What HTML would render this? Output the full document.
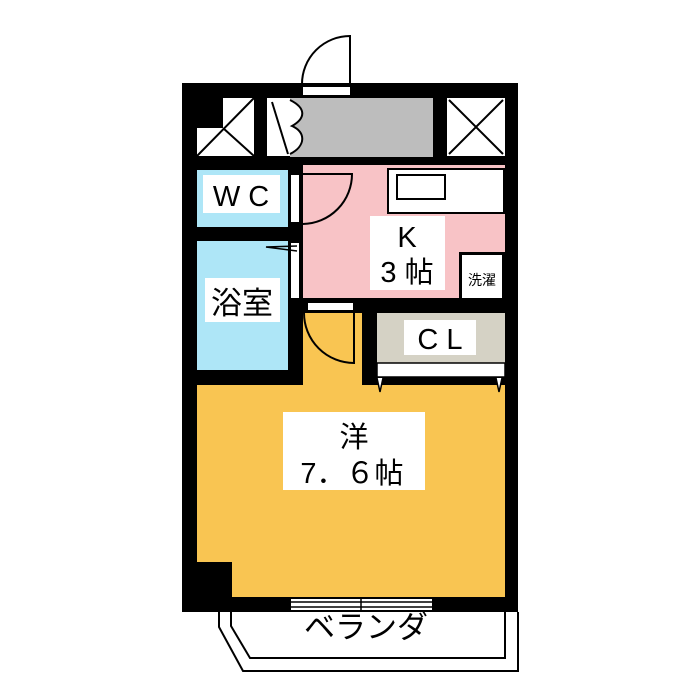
<!DOCTYPE html>
<html><head><meta charset="utf-8"><style>body{margin:0;background:#fff}svg{display:block}text{font-family:"Liberation Sans","Noto Sans CJK JP",sans-serif}</style></head><body>
<svg width="700" height="700" viewBox="0 0 700 700" xmlns="http://www.w3.org/2000/svg">
<rect width="700" height="700" fill="#fff"/>
<!-- balcony -->
<path d="M219 612 V627 L243 671 H518 V612" fill="none" stroke="#000" stroke-width="2"/>
<path d="M231 612 V626 L250 658 H505 V612" fill="none" stroke="#000" stroke-width="2"/>
<!-- outer walls -->
<rect x="182" y="83" width="336" height="529" fill="#000"/>
<!-- top row -->
<rect x="197" y="98" width="57" height="58" fill="#fff"/>
<rect x="197" y="98" width="26" height="30" fill="#000"/>
<path d="M197 156 L254 98 M223 128 L254 156" stroke="#000" stroke-width="2"/>
<rect x="267" y="98" width="23" height="58" fill="#fff"/>
<path d="M272 102 L288 154" stroke="#000" stroke-width="2"/>
<rect x="290" y="98" width="143" height="59" fill="#bdbdbd"/>
<path d="M290 100 C306 108 306 118 292 126 C306 132 306 146 290 154" fill="#fff" stroke="#000" stroke-width="2"/>
<rect x="447" y="98" width="58" height="58" fill="#fff"/>
<path d="M449 100 L503 154 M503 100 L449 154" stroke="#000" stroke-width="2"/>
<!-- entry door -->
<rect x="303" y="87" width="47" height="8" fill="#fff"/>
<path d="M350 85 V36 A48 48 0 0 0 302 84" fill="none" stroke="#000" stroke-width="2"/>
<!-- WC / bath -->
<rect x="197" y="170" width="91" height="57" fill="#aee6f7"/>
<rect x="197" y="241" width="91" height="129" fill="#aee6f7"/>
<rect x="291" y="175" width="8" height="47" fill="#fff"/>
<rect x="291" y="243" width="8" height="55" fill="#fff"/>
<path d="M297 246 L266 247 L297 251" fill="none" stroke="#000" stroke-width="1.5"/>
<!-- kitchen -->
<rect x="303" y="165" width="202" height="133" fill="#f8c3c6"/>
<path d="M303 224 A50 50 0 0 0 352 174 H303" fill="none" stroke="#000" stroke-width="2"/>
<rect x="387" y="168" width="118" height="46" fill="#000"/>
<rect x="389" y="170" width="114" height="42" fill="#fff"/>
<rect x="397" y="175" width="48" height="24" fill="#fff" stroke="#000" stroke-width="2"/>
<rect x="370" y="216" width="75" height="74" fill="#fff"/>
<rect x="459" y="252" width="46" height="48" fill="#000"/>
<rect x="462" y="255" width="40" height="43" fill="#fff"/>
<text x="407" y="247" font-size="29" text-anchor="middle">K</text>
<text x="407" y="282" font-size="29" text-anchor="middle">3 帖</text>
<text x="482" y="285" font-size="14" text-anchor="middle">洗濯</text>
<!-- yellow room -->
<rect x="303" y="313" width="59" height="80" fill="#f9c552"/>
<rect x="197" y="385" width="308" height="212" fill="#f9c552"/>
<rect x="182" y="562" width="50" height="50" fill="#000"/>
<rect x="308" y="303" width="45" height="7" fill="#fff"/>
<path d="M304 313 A50 50 0 0 0 354 363 V313" fill="none" stroke="#000" stroke-width="2"/>
<!-- closet -->
<rect x="377" y="313" width="128" height="50" fill="#d5d2c5"/>
<rect x="377" y="363" width="128" height="14" fill="#fff" stroke="#000" stroke-width="1.5"/>
<path d="M377 378 L380 392 L383 378 M496 378 L499 392 L502 378" fill="#fff" stroke="#000" stroke-width="1.5"/>
<rect x="404" y="320" width="72" height="35" fill="#fff"/>
<text x="440" y="349" font-size="29" text-anchor="middle">C L</text>
<!-- labels -->
<rect x="203" y="175" width="77" height="38" fill="#fff"/>
<text x="241" y="206" font-size="29" text-anchor="middle">W C</text>
<rect x="205" y="278" width="75" height="44" fill="#fff"/>
<text x="242" y="314" font-size="31" text-anchor="middle">浴室</text>
<rect x="283" y="412" width="142" height="78" fill="#fff"/>
<text x="354" y="447" font-size="29" text-anchor="middle">洋</text>
<text x="352" y="483" font-size="29" text-anchor="middle">7．６帖</text>
<!-- window -->
<rect x="291" y="599" width="141" height="11" fill="#fff"/>
<path d="M291 602 H432 M291 607 H432 M361 598 V612" stroke="#000" stroke-width="1.5"/>
<text x="366" y="638" font-size="31" text-anchor="middle">ベランダ</text>
</svg>
</body></html>
